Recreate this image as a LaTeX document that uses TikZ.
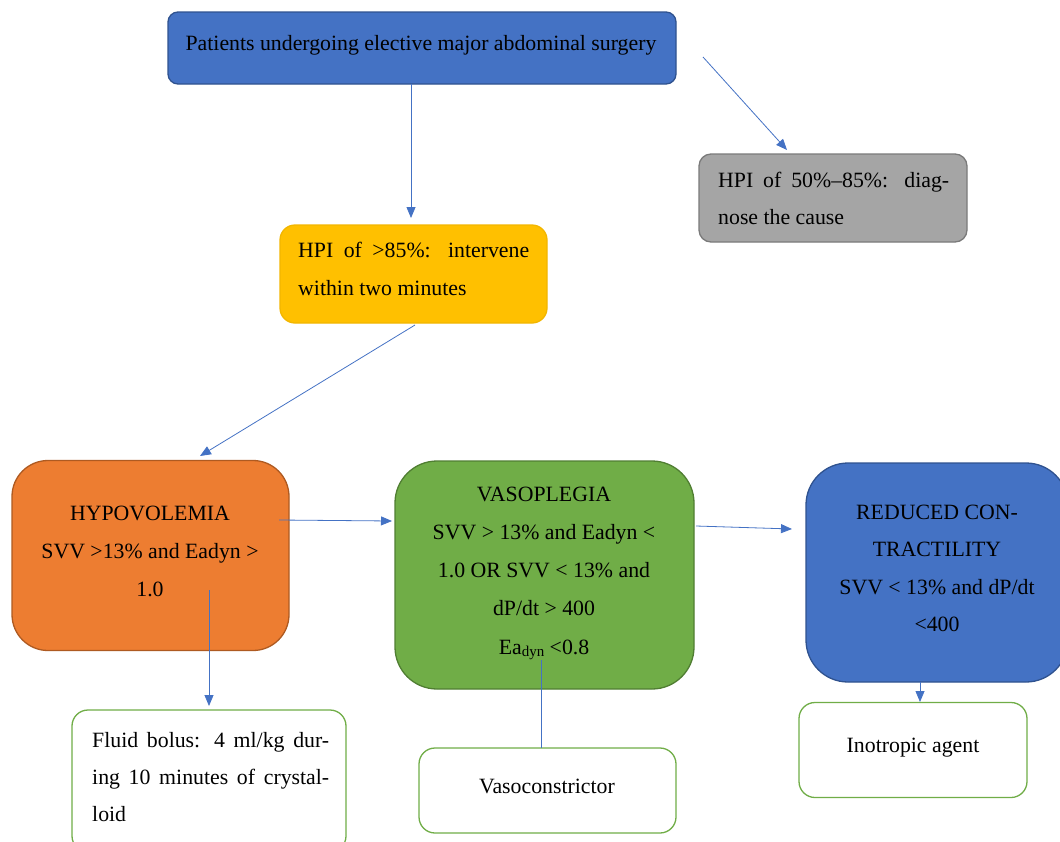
\documentclass[tikz,border=0pt]{standalone}
\usepackage{fontspec}
\setmainfont{Liberation Serif}
\usetikzlibrary{arrows.meta}
\definecolor{oblue}{HTML}{4472C4}
\definecolor{obluedk}{HTML}{2F528F}
\definecolor{ogray}{HTML}{A5A5A5}
\definecolor{ograydk}{HTML}{7A7A7A}
\definecolor{oyellow}{HTML}{FFC000}
\definecolor{oyellowdk}{HTML}{F2B600}
\definecolor{oorange}{HTML}{ED7D31}
\definecolor{oorangedk}{HTML}{AE5A21}
\definecolor{ogreen}{HTML}{70AD47}
\definecolor{ogreendk}{HTML}{507E32}
\begin{document}
\begin{tikzpicture}[x=1pt,y=-1pt,
  shapebox/.style={draw, line width=1.3pt, inner sep=0pt},
  outbox/.style={shapebox, draw=ogreen, fill=white, rounded corners=16pt},
  txt/.style={anchor=base, inner sep=0pt, font=\fontsize{21.8}{26}\selectfont},
  ltxt/.style={txt, anchor=base west},
  conn/.style={draw=oblue, line width=0.8pt},
  arr/.style={conn, -{Triangle[length=11pt,width=9pt]}}]
\useasboundingbox (0,0) rectangle (1060,841);

% boxes
\node[shapebox, draw=obluedk, fill=oblue, rounded corners=10pt, minimum width=508pt, minimum height=72pt] (top) at (422,48) {};
\node[shapebox, draw=ograydk, fill=ogray, rounded corners=12pt, minimum width=268pt, minimum height=88pt] (gray) at (833,198) {};
\node[shapebox, draw=oyellowdk, fill=oyellow, rounded corners=15pt, minimum width=267pt, minimum height=98pt] (yellow) at (413.5,274) {};
\node[shapebox, draw=oorangedk, fill=oorange, rounded corners=36pt, minimum width=277pt, minimum height=190pt] (hypo) at (150.5,555.5) {};
\node[shapebox, draw=ogreendk, fill=ogreen, rounded corners=42pt, minimum width=299pt, minimum height=228pt] (vaso) at (544.5,575) {};
\node[shapebox, draw=obluedk, fill=oblue, rounded corners=42pt, minimum width=262pt, minimum height=219pt] (contr) at (937,572.5) {};
\node[outbox, minimum width=274pt, minimum height=142pt] (fluid) at (209,781) {};
\node[outbox, minimum width=257pt, minimum height=85pt] (vc) at (547.5,790.5) {};
\node[outbox, minimum width=228pt, minimum height=95pt] (ino) at (913,750) {};

% texts
\node[txt] (t1) at (421,50) {Patients undergoing elective major abdominal surgery};

\node[ltxt] (g1) at (718,187) {\makebox[231pt][s]{HPI of 50\%–85\%: diag-}};
\node[ltxt] (g2) at (718,224) {nose the cause};

\node[ltxt] (y1) at (298,257) {\makebox[231pt][s]{HPI of >85\%: intervene}};
\node[ltxt] (y2) at (298,295) {within two minutes};

\node[txt] (h1) at (150,520) {HYPOVOLEMIA};
\node[txt] (h2) at (150,558) {SVV >13\% and Eadyn >};
\node[txt] (h3) at (150,596) {1.0};

\node[txt] (v1) at (544,501) {VASOPLEGIA};
\node[txt] (v2) at (544,539) {SVV > 13\% and Eadyn <};
\node[txt] (v3) at (544,577) {1.0 OR SVV < 13\% and};
\node[txt] (v4) at (544,615) {dP/dt > 400};
\node[txt] (v5) at (544,654) {Ea{\fontsize{15}{17}\selectfont\raisebox{-2.5pt}{dyn}} <0.8};

\node[txt] (c1) at (937,519) {REDUCED CON-};
\node[txt] (c2) at (937,556) {TRACTILITY};
\node[txt] (c3) at (937,594) {SVV < 13\% and dP/dt};
\node[txt] (c4) at (937,631) {<400};

\node[ltxt] (f1) at (92,747) {\makebox[237pt][s]{Fluid bolus: 4 ml/kg dur-}};
\node[ltxt] (f2) at (92,784) {\makebox[237pt][s]{ing 10 minutes of crystal-}};
\node[ltxt] (f3) at (92,821) {loid};

\node[txt] (vct) at (547,793) {Vasoconstrictor};
\node[txt] (it) at (913,752) {Inotropic agent};

% connector end points
\coordinate (a1s) at (411,84);
\coordinate (a1e) at (411,218);
\coordinate (a2s) at (703,57);
\coordinate (a2e) at (787,150);
\coordinate (a3s) at (415,325);
\coordinate (a3e) at (200,456);
\coordinate (a4s) at (279,520);
\coordinate (a4e) at (392,521);
\coordinate (a5s) at (209,590);
\coordinate (a5e) at (209,706);
\coordinate (a6s) at (696,526);
\coordinate (a6e) at (792,529);
\coordinate (a7s) at (541,660);
\coordinate (a7e) at (541,748);
\coordinate (a8s) at (920,682);
\coordinate (a8e) at (920,702);

\draw[arr] (a1s) -- (a1e);
\draw[arr] (a2s) -- (a2e);
\draw[arr] (a3s) -- (a3e);
\draw[arr] (a4s) -- (a4e);
\draw[arr] (a5s) -- (a5e);
\draw[arr] (a6s) -- (a6e);
\draw[conn] (a7s) -- (a7e);
\draw[arr] (a8s) -- (a8e);
\end{tikzpicture}
\end{document}
